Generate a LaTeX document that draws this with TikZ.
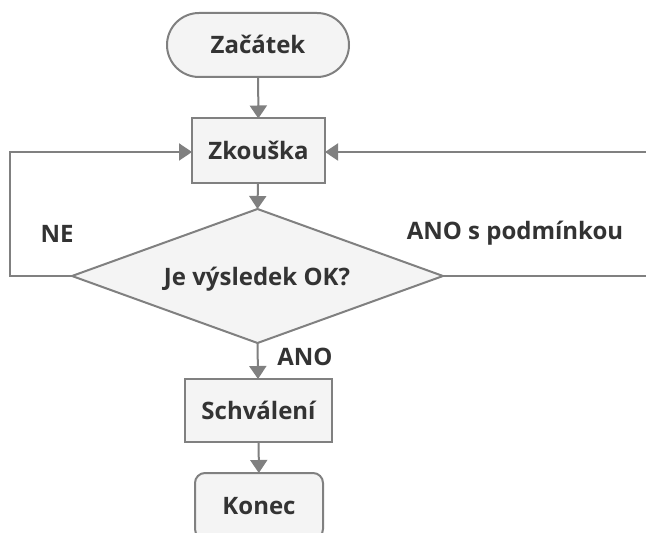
\documentclass[tikz,border=0pt]{standalone}
\usepackage{fontspec}
\setmainfont{Open Sans}
\usetikzlibrary{shapes.geometric,arrows.meta}
\definecolor{edgegray}{HTML}{808080}
\definecolor{boxfill}{HTML}{F4F4F4}
\definecolor{inkgray}{HTML}{333333}
\tikzset{
  base/.style={draw=edgegray, fill=boxfill, line width=1pt, outer sep=0pt,
    inner sep=0pt, font=\bfseries\fontsize{12}{14}\selectfont, text=inkgray,
    text height=8.6pt, text depth=0pt},
  terminal/.style={base, rounded corners=16pt},
  endbox/.style={base, rounded corners=5pt},
  process/.style={base},
  decision/.style={base, diamond, aspect=2.77},
  flow/.style={draw=edgegray, line width=1pt,
    -{Triangle[width=8.5pt,length=6.5pt]}},
  plainline/.style={draw=edgegray, line width=1pt},
  lbl/.style={font=\bfseries\fontsize{12}{14}\selectfont, text=inkgray,
    inner sep=0pt, anchor=base}
}
\begin{document}
\begin{tikzpicture}[x=0.5pt,y=-0.5pt]
  \useasboundingbox (0,0) rectangle (646,533);

  \node[terminal, minimum width=91pt, minimum height=32pt] (start) at (258,45) {Začátek};
  \node[process, minimum width=66.5pt, minimum height=32.5pt] (test) at (258.5,151) {Zkouška};
  \node[decision, minimum width=185.5pt, minimum height=67pt,
        text height=0pt] (check) at (257.5,276) {};
  \node[lbl] (qtext) at (257,286) {Je výsledek OK?};
  \node[process, minimum width=73.5pt, minimum height=31.5pt] (approve) at (258.5,410.5) {Schválení};
  \node[endbox, minimum width=64pt, minimum height=33pt] (stop) at (259,506) {Konec};

  \coordinate (lb) at (10,276);
  \coordinate (lt) at (10,152);
  \coordinate (rb) at (652,276);
  \coordinate (rt) at (652,152);

  \draw[flow] (start) -- (test);
  \draw[flow] (test) -- (check.north);
  \draw[flow] (check.south) -- (approve);
  \draw[flow] (approve) -- (stop);
  \draw[flow] (check.west) -- (lb) -- (lt) -- (test.west |- lt);
  \draw[flow] (check.east) -- (rb) -- (rt) -- (test.east |- rt);

  \node[lbl] (ne) at (57,243) {NE};
  \node[lbl] (anocond) at (515,240) {ANO s podmínkou};
  \node[lbl] (ano) at (305,365) {ANO};
\end{tikzpicture}
\end{document}
